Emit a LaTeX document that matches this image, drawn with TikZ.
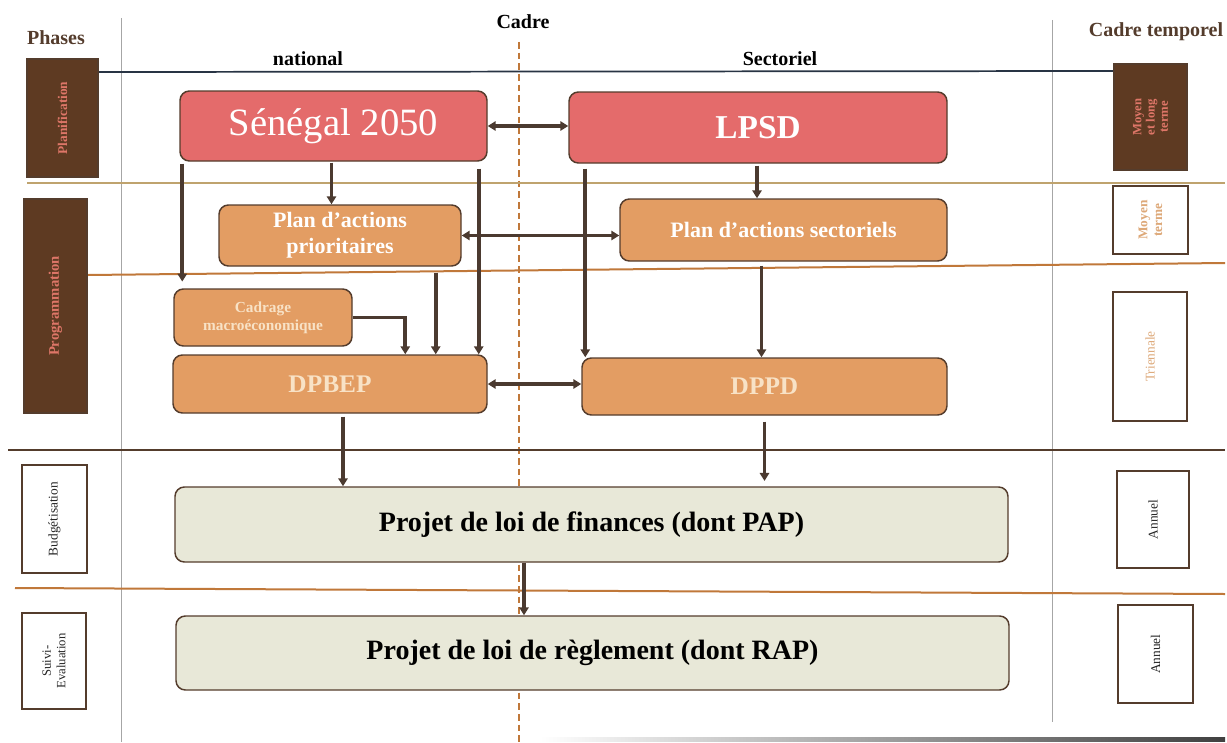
\documentclass[tikz,border=0pt]{standalone}
\usepackage{fontspec}
\setmainfont{Liberation Serif}
\usepackage{xcolor}
\usetikzlibrary{arrows.meta,calc}

\definecolor{boxred}{RGB}{228,107,107}
\definecolor{boxorange}{RGB}{227,157,99}
\definecolor{boxbeige}{RGB}{232,232,216}
\definecolor{linebrown}{RGB}{84,60,44}
\definecolor{arrbrown}{RGB}{75,58,48}
\definecolor{phasebrown}{RGB}{94,58,34}
\definecolor{salmon}{RGB}{222,118,104}
\definecolor{tan}{RGB}{221,168,120}
\definecolor{cream}{RGB}{248,226,198}
\definecolor{gold}{RGB}{191,163,110}
\definecolor{rust}{RGB}{192,120,58}
\definecolor{navy}{RGB}{40,52,68}

\begin{document}
\begin{tikzpicture}[x=0.75pt,y=0.75pt,yscale=-1,xscale=1,
    blk/.style={draw=linebrown,line width=1.1pt,rounded corners=7pt,align=center,inner sep=2pt},
    rougebox/.style={blk,fill=boxred,text=white},
    orangebox/.style={blk,fill=boxorange,text=white,font=\fontsize{16.5}{19.5}\selectfont\bfseries},
    loibox/.style={blk,fill=boxbeige,text=black,font=\fontsize{21}{24}\selectfont\bfseries},
    phasebox/.style={draw=linebrown,line width=1pt,rotate=90,align=center,inner sep=1pt},
    head/.style={font=\fontsize{15}{17}\selectfont\bfseries},
    arr/.style={draw=arrbrown,line width=2.7pt,-{Triangle[length=6pt,width=7pt]}},
    biarr/.style={draw=arrbrown,line width=2.7pt,{Triangle[length=6pt,width=7pt]}-{Triangle[length=6pt,width=7pt]}}
  ]
  \useasboundingbox (0,0) rectangle (1227,742);

  % frame lines
  \draw [gray!70,line width=0.7pt] (121,18) -- (121,742);
  \draw [gray!70,line width=0.7pt] (1052,20) -- (1052,722);
  \draw [rust,line width=0.8pt,dash pattern=on 5pt off 3pt] (519,42) -- (519,742);
  \draw [navy,line width=1.3pt] (98,72) -- (1115,71);
  \draw [gold,line width=1.2pt] (27,183) -- (1225,183);
  \draw [rust,line width=1.5pt] (88,275) -- (1225,263);
  \draw [linebrown,line width=1.3pt] (8,450) -- (1225,450);
  \draw [rust,line width=1.5pt] (15,588) -- (1225,594);
  \shade [left color=white,right color=black!75] (540,737) rectangle (1225,741);

  % headings
  \node [head,text=linebrown] (phases) at (56,38) {Phases};
  \node [head] (cadre) at (523,22) {Cadre};
  \node [head] (national) at (308,59) {national};
  \node [head] (sectoriel) at (780,59) {Sectoriel};
  \node [head,text=linebrown] (temporel) at (1156,32) {Cadre temporel};

  % phases
  \node [phasebox,fill=phasebrown,text=salmon,minimum width=88.5pt,minimum height=53.25pt,font=\fontsize{10}{12}\selectfont\bfseries] (planif) at (62.5,118) {Planification};
  \node [phasebox,fill=phasebrown,text=salmon,minimum width=160.5pt,minimum height=47.25pt,font=\fontsize{11}{13}\selectfont\bfseries] (prog) at (55.5,306) {Programmation};
  \node [phasebox,fill=white,text=black!85,minimum width=81pt,minimum height=48.75pt,font=\fontsize{10}{12}\selectfont] (budg) at (54.5,519) {Budgétisation};
  \node [phasebox,fill=white,text=black!85,minimum width=72pt,minimum height=48pt,font=\fontsize{9.5}{11}\selectfont] (suivi) at (54,661) {Suivi-\\Evaluation};

  % cadre temporel
  \node [phasebox,fill=phasebrown,text=salmon,minimum width=79.5pt,minimum height=54.75pt,font=\fontsize{9.5}{10}\selectfont\bfseries] (mlt) at (1150.5,117) {Moyen\\et long\\terme};
  \node [phasebox,fill=white,text=tan,minimum width=51pt,minimum height=56.25pt,font=\fontsize{10}{11}\selectfont\bfseries] (mt) at (1150.5,220) {Moyen\\terme};
  \node [phasebox,fill=white,text=tan,minimum width=96.75pt,minimum height=55.5pt,font=\fontsize{10}{12}\selectfont] (tri) at (1150,356.5) {Triennale};
  \node [phasebox,fill=white,text=black!85,minimum width=72.75pt,minimum height=54pt,font=\fontsize{10}{12}\selectfont] (ann1) at (1153,519.5) {Annuel};
  \node [phasebox,fill=white,text=black!85,minimum width=73.5pt,minimum height=56.25pt,font=\fontsize{10}{12}\selectfont] (ann2) at (1155.5,654) {Annuel};

  % blocs national / sectoriel
  \node [rougebox,minimum width=230.25pt,minimum height=52.5pt,font=\fontsize{29}{32}\selectfont] (sen) at (333.5,126) {Sénégal 2050};
  \node [rougebox,minimum width=283.5pt,minimum height=53.25pt,font=\fontsize{25}{28}\selectfont\bfseries] (lpsd) at (758,127.5) {LPSD};
  \node [orangebox,minimum width=181.5pt,minimum height=45.75pt] (pap) at (340,235.5) {Plan d'actions\\prioritaires};
  \node [orangebox,minimum width=245.25pt,minimum height=46.5pt] (pas) at (783.5,230) {Plan d'actions sectoriels};
  \node [orangebox,minimum width=133.5pt,minimum height=42.75pt,text=cream,font=\fontsize{11.5}{13.5}\selectfont\bfseries] (cadrage) at (263,317.5) {Cadrage\\macroéconomique};
  \node [orangebox,minimum width=235.5pt,minimum height=43.5pt,text=cream,font=\fontsize{19}{22}\selectfont\bfseries] (dpbep) at (330,384) {DPBEP};
  \node [orangebox,minimum width=273.75pt,minimum height=42.75pt,text=cream,font=\fontsize{19}{22}\selectfont\bfseries] (dppd) at (764.5,386.5) {DPPD};
  \node [loibox,minimum width=624.75pt,minimum height=56.25pt] (plf) at (591.5,524.5) {Projet de loi de finances (dont PAP)};
  \node [loibox,minimum width=624.75pt,minimum height=55.5pt] (plr) at (592.5,653) {Projet de loi de règlement (dont RAP)};

  % points de depart des fleches
  \coordinate (sA) at ($(sen.south west)+(3,2)$);
  \coordinate (sB) at ($(sen.south)+(-2,1)$);
  \coordinate (sC) at ($(sen.south east)+(-9,7)$);
  \coordinate (lA) at ($(lpsd.south west)+(17,5)$);
  \coordinate (lB) at ($(lpsd.south)+(-1,2)$);
  \coordinate (pA) at ($(pap.south east)+(-26,6)$);
  \coordinate (pB) at ($(pas.south -| dppd.north)+(-3,4)$);
  \coordinate (cA) at ($(dpbep.north west)+(233,0)$);
  \coordinate (dA) at ($(dpbep.south)+(13,3)$);
  \coordinate (dB) at ($(dppd.south)+(0,6)$);
  \coordinate (fA) at ($(plf.south)+(-67.5,0)$);

  % connecteurs
  \draw [biarr] (sen.east) -- (sen.east -| lpsd.west);
  \draw [arr] (sB) -- (sB |- pap.north);
  \draw [arr] (lB) -- (lB |- pas.north);
  \draw [biarr] (pap.east) -- (pap.east -| pas.west);
  \draw [arr,shorten >=5pt] (sA) -- (sA |- cadrage.north);
  \draw [arr] (sC) -- (sC |- dpbep.north);
  \draw [arr] (lA) -- (lA |- dppd.north);
  \draw [arr] (pA) -- (pA |- dpbep.north);
  \draw [arr] (cadrage.east) -| (cA);
  \draw [arr] (pB) -- (pB |- dppd.north);
  \draw [biarr] (dpbep.east) -- (dpbep.east -| dppd.west);
  \draw [arr] (dA) -- (dA |- plf.north);
  \draw [arr,shorten >=4pt] (dB) -- (dB |- plf.north);
  \draw [arr] (fA) -- (fA |- plr.north);
\end{tikzpicture}
\end{document}
